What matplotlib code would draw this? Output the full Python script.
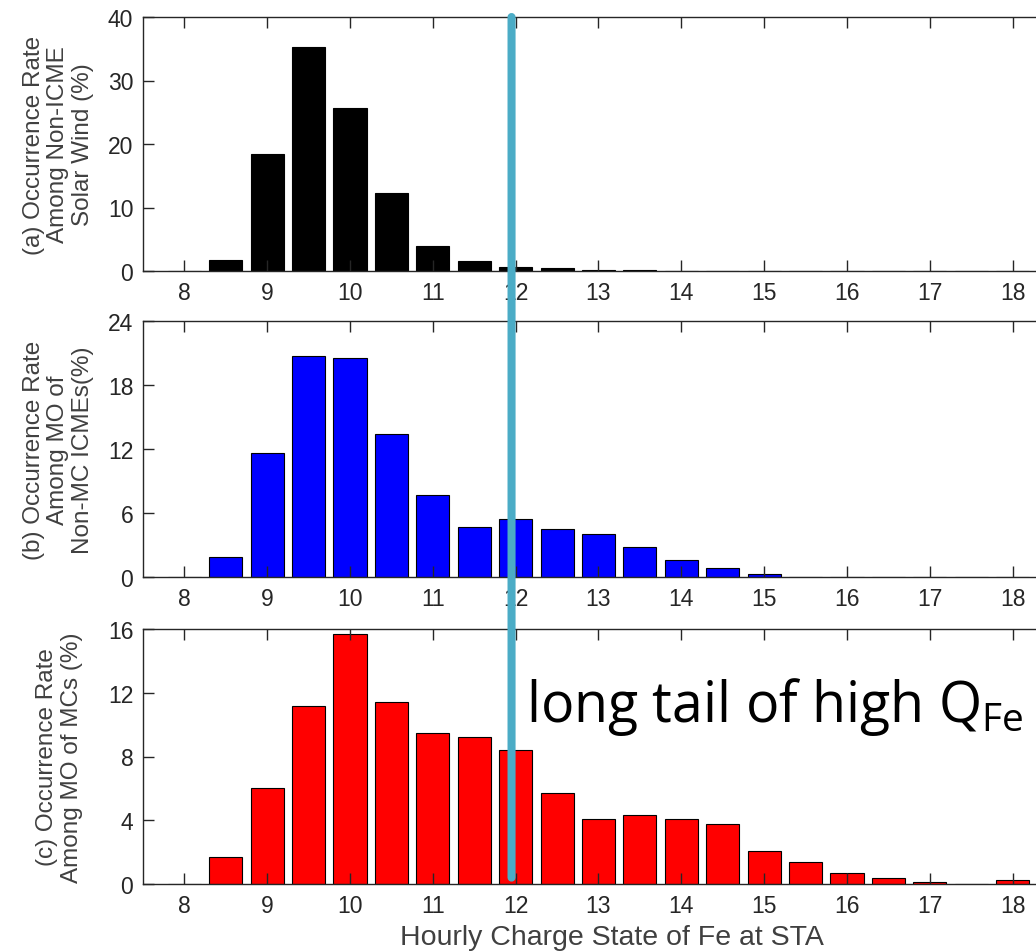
import numpy as np
import matplotlib
matplotlib.use("Agg")
import matplotlib.pyplot as plt
from matplotlib.patches import ConnectionPatch

plt.rcParams['font.family'] = ['Liberation Sans', 'DejaVu Sans']
plt.rcParams['mathtext.fontset'] = 'custom'
plt.rcParams['mathtext.rm'] = 'Open Sans'

# charge state bins (centres)
q_fe = [8, 8.5, 9, 9.5, 10, 10.5, 11, 11.5, 12, 12.5, 13, 13.5, 14, 14.5, 15,
        15.5, 16, 16.5, 17, 17.5, 18]

# (a) non-ICME solar wind
rate_sw = [0, 1.8, 18.4, 35.3, 25.7, 12.3, 3.9, 1.6, 0.7, 0.4, 0.2, 0.1, 0.05,
           0.03, 0.02, 0.01, 0, 0, 0, 0, 0]
# (b) MO of non-MC ICMEs
rate_nonmc = [0, 1.9, 11.6, 20.7, 20.5, 13.4, 7.7, 4.7, 5.4, 4.5, 4.0, 2.8, 1.6,
              0.8, 0.3, 0, 0, 0, 0, 0, 0]
# (c) MO of MCs
rate_mc = [0, 1.7, 6.0, 11.2, 15.7, 11.4, 9.5, 9.2, 8.4, 5.7, 4.1, 4.35, 4.1,
           3.75, 2.1, 1.35, 0.7, 0.4, 0.12, 0, 0.28]

ylabels = ["(a) Occurrence Rate\nAmong Non-ICME\nSolar Wind (%)",
           "(b) Occurrence Rate\nAmong MO of\nNon-MC ICMEs(%)",
           "(c) Occurrence Rate\nAmong MO of MCs (%)"]
yticks = [[0, 10, 20, 30, 40], [0, 6, 12, 18, 24], [0, 4, 8, 12, 16]]
colors = ['black', 'blue', 'red']
series = [rate_sw, rate_nonmc, rate_mc]
label_x = [-0.054, -0.054, -0.066]

W, H = 1036, 953
fig = plt.figure(figsize=(W / 100, H / 100), dpi=100)
left = 143 / W
width = (1054 - 143) / W
boxes = [(18, 272), (322, 578), (630, 885)]

tc = '#262626'
axes = []
for i in range(3):
    top, bot = boxes[i]
    ax = fig.add_axes([left, 1 - bot / H, width, (bot - top) / H])
    ax.bar(q_fe, series[i], width=0.4, color=colors[i], edgecolor='black', linewidth=0.8)
    ax.set_xlim(7.5, 18.5)
    ax.set_ylim(yticks[i][0], yticks[i][-1])
    ax.set_yticks(yticks[i])
    ax.set_xticks(range(8, 19))
    ax.tick_params(direction='in', length=8, width=1.0, top=True, right=True,
                   labelsize=16.5, colors=tc, pad=7)
    for s in ax.spines.values():
        s.set_color(tc)
        s.set_linewidth(1.0)
    ax.set_ylabel(ylabels[i], fontsize=17.5, color='#404040', linespacing=1.15)
    ax.yaxis.set_label_coords(label_x[i], 0.5)
    axes.append(ax)

axes[2].set_xlabel("Hourly Charge State of Fe at STA", fontsize=20.5, color='#404040',
                   va='baseline')
axes[2].xaxis.set_label_coords(0.515, -0.237)

# vertical marker at Q_Fe = 12 spanning all three panels
con = ConnectionPatch(xyA=(11.95, 40), coordsA=axes[0].transData,
                      xyB=(11.95, 0.4), coordsB=axes[2].transData,
                      color='#4BACC6', linewidth=5.8)
fig.add_artist(con)

axes[2].text(12.12, 10.2, r"long tail of high Q$_{\mathrm{Fe}}$", fontsize=40,
             family='Open Sans', va='baseline', ha='left', color='black')

fig.savefig("out.png", dpi=100)
